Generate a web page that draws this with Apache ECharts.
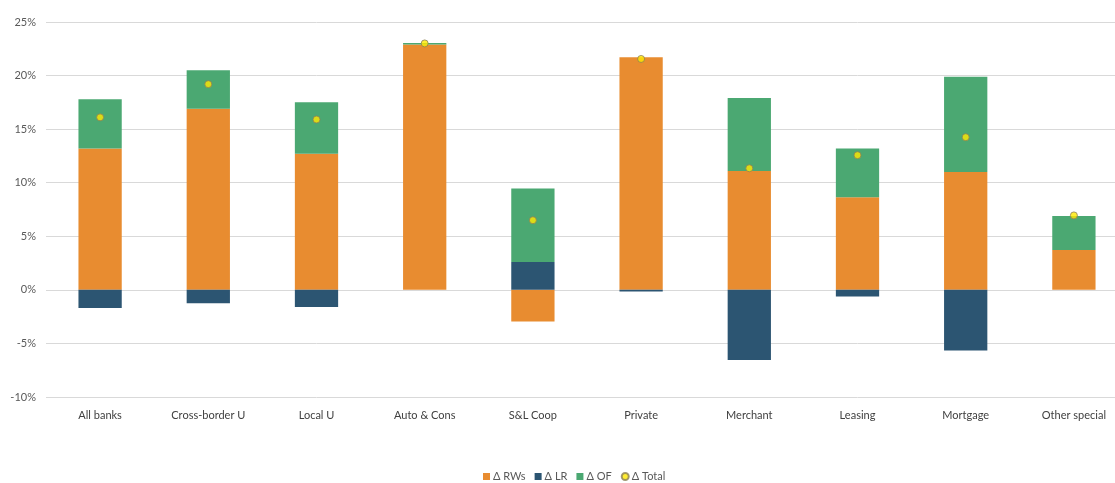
<!DOCTYPE html>
<html>
<head>
<meta charset="utf-8">
<script src="https://cdn.jsdelivr.net/npm/echarts@6/dist/echarts.min.js"></script>
<style>
  html, body { margin: 0; padding: 0; background: #fff; overflow: hidden; }
  #chart { width: 1135px; height: 483px; }
</style>
</head>
<body>
<div id="chart"></div>
<script>
// Change decomposition by bank group (percentage points)
const categories = ['All banks', 'Cross-border U', 'Local U', 'Auto & Cons', 'S&L Coop', 'Private', 'Merchant', 'Leasing', 'Mortgage', 'Other special'];
const deltaRWs   = [13.2, 16.9, 12.7, 22.9, -2.95, 21.7, 11.1, 8.65, 11.0, 3.72];
const deltaLR    = [-1.7, -1.25, -1.6, 0, 2.6, -0.15, -6.55, -0.63, -5.65, 0];
const deltaOF    = [4.6, 3.6, 4.8, 0.15, 6.85, 0, 6.8, 4.55, 8.9, 3.18];
const deltaTotal = [16.1, 19.2, 15.9, 23.0, 6.5, 21.55, 11.35, 12.57, 14.25, 6.95];
const yTicks = [-10, -5, 0, 5, 10, 15, 20, 25];

const FONT = 'Lato, "Open Sans", sans-serif';
const chart = echarts.init(document.getElementById('chart'), null, { renderer: 'canvas' });

const barSeries = (name, data, color) => ({
  name, type: 'bar', stack: 'total', data, barWidth: '40%',
  itemStyle: { color }, emphasis: { disabled: true }
});

chart.setOption({
  animation: false,
  textStyle: { fontFamily: FONT },
  grid: { left: 46, top: 22, width: 1082, height: 375, containLabel: false },
  legend: {
    top: 466, left: 478, padding: 5, itemWidth: 7, itemHeight: 7, itemGap: 9,
    textStyle: { fontSize: 11, color: '#595959', fontFamily: FONT, padding: [0, 0, 0, -2] },
    data: [
      { name: 'Δ RWs', icon: 'rect' },
      { name: 'Δ LR', icon: 'rect' },
      { name: 'Δ OF', icon: 'rect' },
      { name: 'Δ Total', icon: 'circle' }
    ]
  },
  xAxis: {
    type: 'category', data: categories, position: 'bottom',
    axisLine: { show: false, onZero: false }, axisTick: { show: false },
    axisLabel: { color: '#404040', fontSize: 11, margin: 13, fontFamily: FONT, interval: 0 }
  },
  yAxis: {
    type: 'value', min: yTicks[0], max: yTicks[yTicks.length - 1], interval: 5,
    axisLine: { show: false }, axisTick: { show: false },
    axisLabel: { formatter: v => v + '%', color: '#595959', fontSize: 11, margin: 10, fontFamily: FONT },
    splitLine: { lineStyle: { color: '#d9d9d9', width: 1 } }
  },
  series: [
    barSeries('Δ RWs', deltaRWs, '#E88C30'),
    barSeries('Δ LR', deltaLR, '#2C5572'),
    barSeries('Δ OF', deltaOF, '#4BA872'),
    {
      name: 'Δ Total', type: 'scatter', data: deltaTotal, symbol: 'circle', symbolSize: 7,
      itemStyle: { color: '#FFE800', borderColor: '#8C7F55', borderWidth: 1 },
      emphasis: { disabled: true }, z: 5
    }
  ]
});
</script>
</body>
</html>
